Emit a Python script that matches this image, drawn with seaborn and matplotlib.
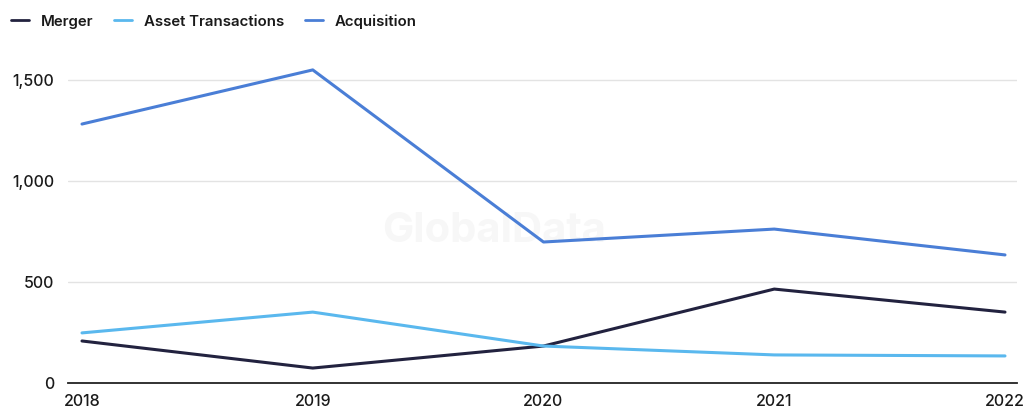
import matplotlib
matplotlib.use("Agg")
import matplotlib.pyplot as plt
import seaborn as sns
import pandas as pd

years = [2018, 2019, 2020, 2021, 2022]
merger = [208, 74, 183, 465, 351]
asset_transactions = [248, 351, 183, 139, 134]
acquisition = [1282, 1550, 698, 762, 634]
series_names = ["Merger", "Asset Transactions", "Acquisition"]
colors = ["#22223f", "#5ab8ee", "#4a7ed6"]
y_ticks = [0, 500, 1000, 1500]
y_tick_labels = ["0", "500", "1,000", "1,500"]

df = pd.DataFrame({
    "Year": years * 3,
    "Deals": merger + asset_transactions + acquisition,
    "Type": [series_names[0]] * 5 + [series_names[1]] * 5 + [series_names[2]] * 5,
})

sns.set_theme(style="white")
plt.rcParams["font.family"] = ["Inter", "DejaVu Sans"]

fig = plt.figure(figsize=(10.26, 4.13), dpi=100)
ax = fig.add_axes([68 / 1026, 1 - 383 / 413, (1017 - 68) / 1026, (383 - 49.7) / 413])

sns.lineplot(data=df, x="Year", y="Deals", hue="Type", palette=colors,
             hue_order=series_names, linewidth=2.2, ax=ax, legend=False)

ax.set_xlim(2018 - 14 / 230.75, 2022 + 12 / 230.75)
ax.set_ylim(0, 1650)
ax.set_xticks(years)
ax.set_xticklabels([str(y) for y in years], fontsize=11.5, color="#1a1a1a",
                   fontweight="medium")
ax.set_yticks(y_ticks)
ax.set_yticklabels(y_tick_labels, fontsize=11.5, color="#1a1a1a", fontweight="medium")
ax.tick_params(axis="both", length=0)
ax.tick_params(axis="x", pad=8)
ax.tick_params(axis="y", pad=10)
ax.set_xlabel("")
ax.set_ylabel("")

for t in y_ticks[1:]:
    ax.axhline(t, color="#e3e3e3", linewidth=1, zorder=0)

for side in ["top", "right", "left"]:
    ax.spines[side].set_visible(False)
ax.spines["bottom"].set_color("#222222")
ax.spines["bottom"].set_linewidth(1.3)

ax.text(0.449, 0.455, "GlobalData", transform=ax.transAxes, ha="center", va="center",
        fontsize=30, fontweight="bold", color="#f7f7f7", zorder=0)

# legend drawn across the top
handles = [plt.Line2D([0], [0], color=c, linewidth=2) for c in colors]
leg = fig.legend(handles, series_names, loc="upper left", bbox_to_anchor=(0.0, 0.993),
                 ncol=3, frameon=False, fontsize=10.8, handlelength=1.2,
                 handletextpad=0.8, columnspacing=1.35, borderaxespad=0.35)
for txt in leg.get_texts():
    txt.set_fontweight("semibold")
    txt.set_color("#1a1a1a")

fig.savefig("out.png", dpi=100)
